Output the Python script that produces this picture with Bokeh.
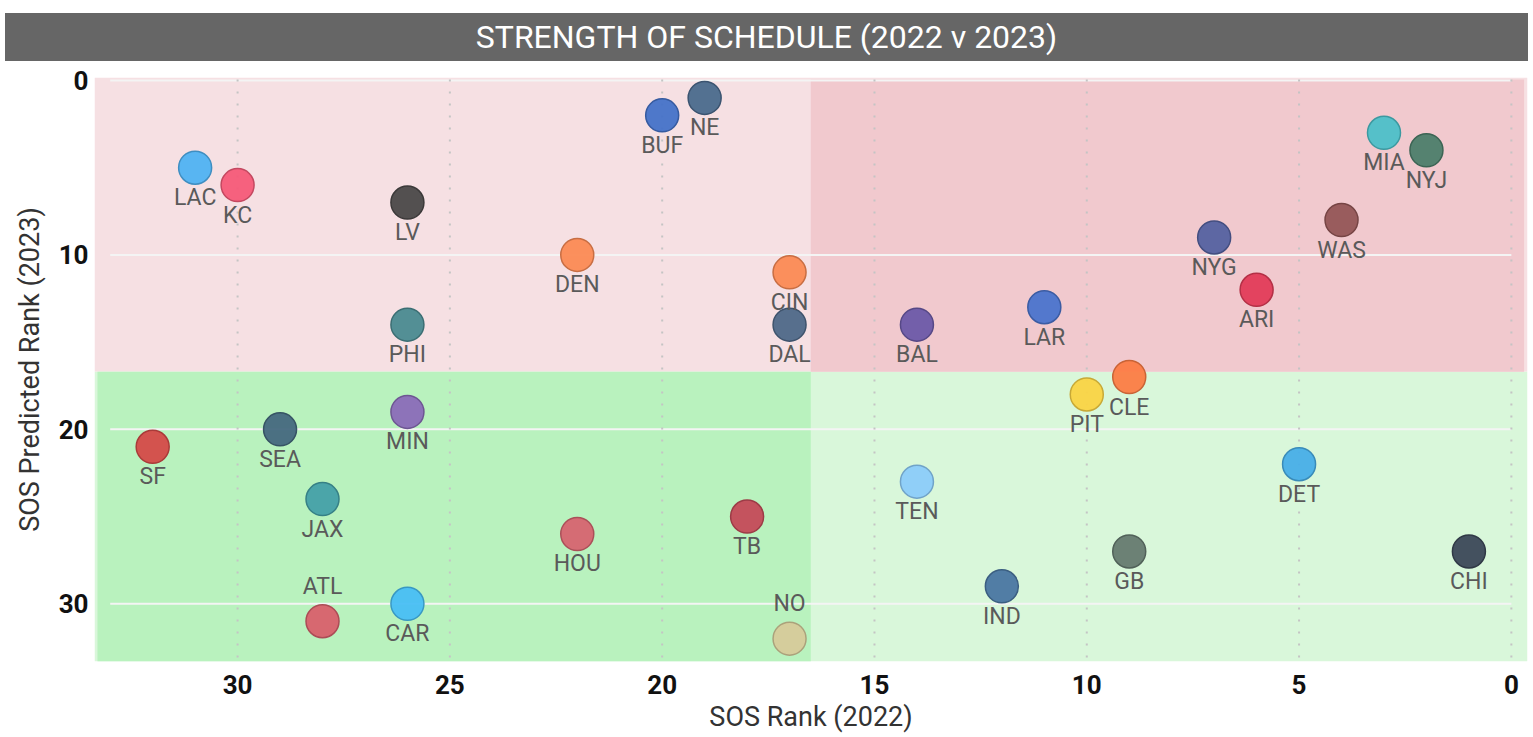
from bokeh.plotting import figure
from bokeh.models import ColumnDataSource, Range1d, FixedTicker, Div
from bokeh.layouts import column
from bokeh.core.properties import value
from bokeh.embed import file_html
from bokeh.resources import INLINE

# ---- data ----
teams = ["NE", "BUF", "MIA", "NYJ", "LAC", "KC", "LV", "WAS", "NYG", "DEN", "CIN",
         "ARI", "LAR", "PHI", "DAL", "BAL", "CLE", "PIT", "MIN", "SEA", "SF", "DET",
         "TEN", "JAX", "TB", "HOU", "GB", "CHI", "IND", "CAR", "ATL", "NO"]
sos_2022 = [19, 20, 3, 2, 31, 30, 26, 4, 7, 22, 17,
            6, 11, 26, 17, 14, 9, 10, 26, 29, 32, 5,
            14, 28, 18, 22, 9, 1, 12, 26, 28, 17]
sos_2023 = [1, 2, 3, 4, 5, 6, 7, 8, 9, 10, 11,
            12, 13, 14, 14, 14, 17, 18, 19, 20, 21, 22,
            23, 24, 25, 26, 27, 27, 29, 30, 31, 32]
team_colors = ["#4a6a8c", "#4472c8", "#4cc0c8", "#4c7e6a", "#4fb2f2", "#f65a78", "#4a4848",
               "#945656", "#5462a0", "#fb8a54", "#fb8a54", "#e23c58", "#4a74cc", "#4a8a90",
               "#4e6888", "#6c5aa8", "#fc7c44", "#fad444", "#8a6cb8", "#44687e", "#d44a48",
               "#48aee8", "#8cccfa", "#44a0a8", "#c44a58", "#d66470", "#667a70", "#3c4858",
               "#4a76a2", "#48bef4", "#d8606c", "#d6ca9a"]
labels_above = ["ATL", "NO"]
x_ticks = [0, 5, 10, 15, 20, 25, 30]
y_ticks = [0, 10, 20, 30]
x_split = 16.5
y_split = 16.7


def darker(hexc, f=0.8):
    r, g, b = int(hexc[1:3], 16), int(hexc[3:5], 16), int(hexc[5:7], 16)
    return "#%02x%02x%02x" % (int(r * f), int(g * f), int(b * f))


x_lo, x_hi = 33.37, -0.38
y_top, y_bot = -0.17, 33.31

src = ColumnDataSource(dict(
    x=sos_2022, y=sos_2023, team=teams, fill=team_colors,
    line=[darker(c) for c in team_colors],
    yoff=[-35 if t in labels_above else 30 for t in teams],
))

p = figure(width=1530, height=674, output_backend="svg", toolbar_location=None,
           x_range=Range1d(x_lo, x_hi), y_range=Range1d(y_bot, y_top),
           min_border_left=94, min_border_right=3, min_border_top=16, min_border_bottom=67)
p.outline_line_color = None
p.background_fill_color = "white"
p.border_fill_color = "white"
p.grid.visible = False

# quadrant backgrounds
p.quad(left=[x_lo, x_lo], right=[x_hi, x_hi], top=[y_top, y_split], bottom=[y_split, y_bot],
       fill_color=["#f6e0e3", "#d9f7da"], line_color=None)
p.quad(left=[x_split, 33.3], right=[-0.3, x_split], top=[-0.05, y_split], bottom=[y_split, y_bot],
       fill_color=["#f1c9ce", "#b9f2be"], line_color=None)

# gridlines
p.segment(x0=[33.0] * len(y_ticks), x1=[0] * len(y_ticks), y0=y_ticks, y1=y_ticks,
          line_color="#f4f4f4", line_width=2)
p.segment(x0=x_ticks, x1=x_ticks, y0=[-0.05] * len(x_ticks), y1=[33.1] * len(x_ticks),
          line_color="#c4c4c4", line_width=2, line_dash="2 10")

p.scatter("x", "y", source=src, size=33, fill_color="fill", line_color="line",
          line_width=1.5, fill_alpha=0.95)
p.text("x", "y", text="team", source=src, y_offset="yoff", text_align="center",
       text_baseline="middle", text_color="#5a5a5a", text_font=value("Roboto"),
       text_font_size="23px")

for ax in (p.xaxis, p.yaxis):
    ax.axis_line_color = None
    ax.major_tick_line_color = None
    ax.minor_tick_line_color = None
    ax.major_label_text_font = "Roboto"
    ax.major_label_text_font_size = "26px"
    ax.major_label_text_font_style = "bold"
    ax.major_label_text_color = "#111111"
    ax.axis_label_text_font = "Roboto"
    ax.axis_label_text_font_size = "27px"
    ax.axis_label_text_font_style = "normal"
    ax.axis_label_text_color = "#333333"

p.xaxis.ticker = FixedTicker(ticks=x_ticks)
p.yaxis.ticker = FixedTicker(ticks=y_ticks)
p.xaxis.axis_label = "SOS Rank (2022)"
p.yaxis.axis_label = "SOS Predicted Rank (2023)"
p.xaxis.major_label_standoff = 7
p.yaxis.major_label_standoff = 0
p.xaxis.axis_label_standoff = 4
p.yaxis.axis_label_standoff = 10

title = Div(text='<div style="background:#666666;color:#ffffff;width:1523px;height:48px;'
                 'line-height:48px;text-align:center;font-family:Roboto;font-size:32px;'
                 'margin-left:5px;">STRENGTH OF SCHEDULE (2022 v 2023)</div>',
            width=1530, height=48, margin=(13, 0, 0, 0))

layout = column(title, p, spacing=0)
open("out.html", "w").write(file_html(layout, INLINE))
